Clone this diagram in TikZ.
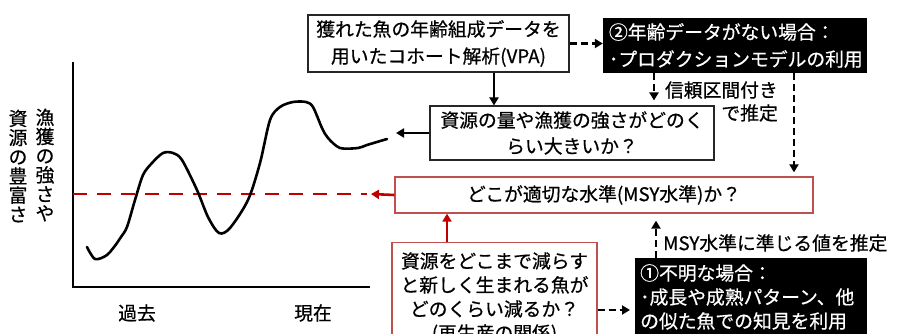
\documentclass[tikz,border=0pt]{standalone}
\usepackage{fontspec}
\setmainfont{Noto Sans CJK JP}[FakeBold=0.6]
\usetikzlibrary{arrows.meta}
\definecolor{boxred}{RGB}{192,80,77}
\definecolor{arrred}{RGB}{192,0,0}
\newcommand{\jf}[1]{\fontsize{18.8}{#1}\selectfont}
\tikzset{
  wbox/.style={draw=black!85, line width=1.1pt, fill=white, inner sep=0pt, align=center},
  bbox/.style={fill=black, text=white, inner sep=0pt},
  rbox/.style={draw=boxred, line width=1.3pt, fill=white, inner sep=0pt, align=center},
  arr/.style={line width=2.5pt, -{Triangle[length=8pt,width=9pt]}},
  darr/.style={arr, dash pattern=on 7pt off 4pt},
  rarr/.style={arr, draw=arrred, fill=arrred, line width=2.6pt},
  lbl/.style={inner sep=0pt}
}
\begin{document}
\begin{tikzpicture}[x=1pt,y=-1pt]
\useasboundingbox (0,0) rectangle (898,334);
\clip (0,0) rectangle (898,334);
\fill[white] (0,0) rectangle (898,334);

% chart
\draw[line width=2.2pt] (73,62) -- (73,287) -- (370,287);
\draw[arrred, line width=2.8pt, dash pattern=on 14pt off 10pt] (73,194) -- (367,194);
\draw[line width=2.6pt, line join=round, line cap=round] plot[smooth, tension=0.5] coordinates {
 (87,247) (95,259) (107,255) (117,243) (121,237) (127,227) (135,200) (143,175)
 (152,163) (163,153) (173,153) (182,160) (197,190) (208,217) (219,233) (230,228)
 (248,200) (260,163) (270,120) (280,107) (293,102) (306,102) (313,107) (322,128)
 (328,138) (340,148) (358,148) (367,145) (387,139)};
\node[lbl, font=\jf{19.2}, align=center] (yl1) at (45,165) {漁\\獲\\の\\強\\さ\\や};
\node[lbl, font=\jf{19.2}, align=center] (yl2) at (18,166) {資\\源\\の\\豊\\富\\さ};
\node[lbl, font=\jf{24}] (past) at (137,313) {過去};
\node[lbl, font=\jf{24}] (now) at (313,313) {現在};

% boxes
\node[wbox, font=\jf{27}, minimum width=261pt, minimum height=57pt] (b1) at (438.5,43.5)
  {獲れた魚の年齢組成データを\\用いたコホート解析(VPA)};
\node[bbox, font=\jf{27}, align=left, text width=252pt, minimum width=264pt, minimum height=55pt] (b2) at (735,45.5)
  {②年齢データがない場合：\\･プロダクションモデルの利用};
\node[wbox, font=\jf{26}, minimum width=284pt, minimum height=54pt] (b3) at (572,133)
  {資源の量や漁獲の強さがどのく\\らい大きいか？};
\node[rbox, font=\jf{24}, minimum width=418pt, minimum height=36pt] (b4) at (604,195)
  {どこが適切な水準(MSY水準)か？};
\node[rbox, minimum width=205pt, minimum height=110pt, anchor=north] (b5) at (494.5,242) {};
\node[lbl, font=\jf{24}, align=center] (b5t) at (494.5,298)
  {資源をどこまで減らす\\と新しく生まれる魚が\\どのくらい減るか？\\(再生産の関係)};
\node[bbox, minimum width=232pt, minimum height=90pt, anchor=north west] (b6) at (635,258) {};
\node[lbl, text=white, font=\jf{24}, align=left, anchor=west] (b6t) at (640,297)
  {①不明な場合：\\･成長や成熟パターン、他\\の似た魚での知見を利用};

% labels
\node[lbl, font=\jf{23}, align=right, anchor=east] (lab1) at (778,101.5) {信頼区間付き\\で推定};
\node[lbl, font=\jf{24}, anchor=west] (lab2) at (663,243) {MSY水準に準じる値を推定};

% connectors
\coordinate (p1) at (396,133);
\coordinate (p2) at (371,194);
\draw[darr] (b1.east) -- (b1.east -| b2.west);
\draw[arr] (b1.south -| 494,0) -- (b3.north -| 494,0);
\draw[darr, shorten >=5pt] (b2.south -| 654,0) -- (b3.north -| 654,0);
\draw[darr, shorten >=4pt] (b2.south -| 794,0) -- (b4.north -| 794,0);
\draw[arr] (b3.west) -- (p1);
\draw[rarr] (b4.west) -- (p2);
\draw[rarr] (b5.north -| 447,0) -- (b4.south -| 447,0);
\draw[darr, shorten >=5pt] (b5.east |- 0,310) -- (b6.west |- 0,310);
\draw[darr, shorten >=7pt] (b6.north -| 656,0) -- (b4.south -| 656,0);
\end{tikzpicture}
\end{document}
